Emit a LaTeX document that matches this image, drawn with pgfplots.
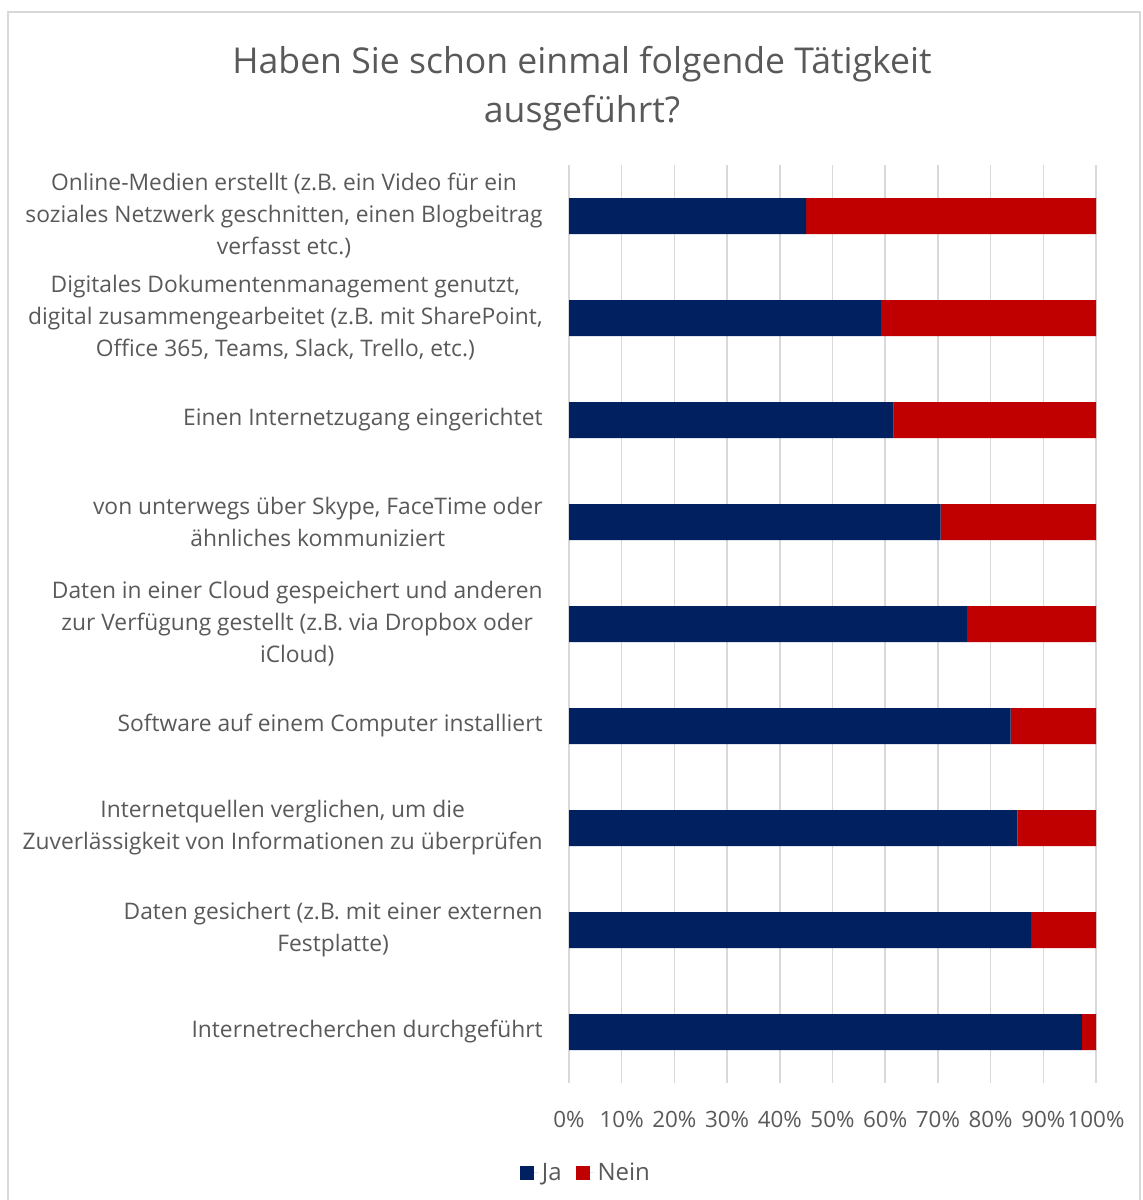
\documentclass[border=0pt]{standalone}
\usepackage{fontspec}
\setmainfont{Open Sans}
\usepackage{pgfplots}
\pgfplotsset{compat=1.18}
\definecolor{ja}{HTML}{002060}
\definecolor{nein}{HTML}{C00000}
\definecolor{txt}{HTML}{595959}
\definecolor{grd}{HTML}{D9D9D9}
\begin{document}
\begin{tikzpicture}
\useasboundingbox (0,0) rectangle (571.5pt,600pt);
\draw[grd, line width=1pt] (4pt,-2pt) rectangle (570pt,594pt);
\node[txt, align=center, font=\fontsize{17.8}{24.5}\selectfont] at (291pt,555.5pt) {Haben Sie schon einmal folgende Tätigkeit\\ausgeführt?};
\begin{axis}[
  at={(284.5pt,58.5pt)}, anchor=south west,
  scale only axis, width=263.5pt, height=459pt,
  xbar stacked, bar width=18pt,
  xmin=0, xmax=100, ymin=-0.5, ymax=8.5, y dir=reverse,
  xtick={0,10,...,100},
  xticklabels={0\%,10\%,20\%,30\%,40\%,50\%,60\%,70\%,80\%,90\%,100\%},
  ytick={0,...,8},
  yticklabels={
    {Online-Medien erstellt (z.B. ein Video für ein\\soziales Netzwerk geschnitten, einen Blogbeitrag\\verfasst etc.)},
    {Digitales Dokumentenmanagement genutzt,\\digital zusammengearbeitet (z.B. mit SharePoint,\\Office 365, Teams, Slack, Trello, etc.)},
    {Einen Internetzugang eingerichtet},
    {von unterwegs über Skype, FaceTime oder\\ähnliches kommuniziert},
    {Daten in einer Cloud gespeichert und anderen\\zur Verfügung gestellt (z.B. via Dropbox oder\\iCloud)},
    {Software auf einem Computer installiert},
    {Internetquellen verglichen, um die\\Zuverlässigkeit von Informationen zu überprüfen},
    {Daten gesichert (z.B. mit einer externen\\Festplatte)},
    {Internetrecherchen durchgeführt}},
  yticklabel style={anchor=east, align=center, inner sep=0pt, xshift=-13pt, text=txt, font=\fontsize{11.4}{16}\selectfont},
  xticklabel style={anchor=center, inner sep=0pt, yshift=-18pt, text=txt, font=\fontsize{11.2}{13}\selectfont},
  major tick length=0pt,
  axis line style={draw=none},
  xmajorgrids, grid style={grd, line width=0.75pt},
  legend style={at={(axis description cs:0.034,-0.098)}, anchor=center, draw=none, fill=none,
    legend columns=2, font=\fontsize{12}{14}\selectfont, text=txt,
    /tikz/every even column/.append style={column sep=5pt}},
  legend image code/.code={\fill[#1] (0pt,-3.6pt) rectangle (7.2pt,3.6pt); \path (0pt,0pt) -- (9pt,0pt);},
]
\addplot[fill=ja, draw=none] coordinates {(45.0,0) (59.2,1) (61.6,2) (70.5,3) (75.5,4) (83.8,5) (85.1,6) (87.7,7) (97.3,8)};
\addplot[fill=nein, draw=none] coordinates {(55.0,0) (40.8,1) (38.4,2) (29.5,3) (24.5,4) (16.2,5) (14.9,6) (12.3,7) (2.7,8)};
\legend{Ja,Nein}
\end{axis}
\end{tikzpicture}
\end{document}
